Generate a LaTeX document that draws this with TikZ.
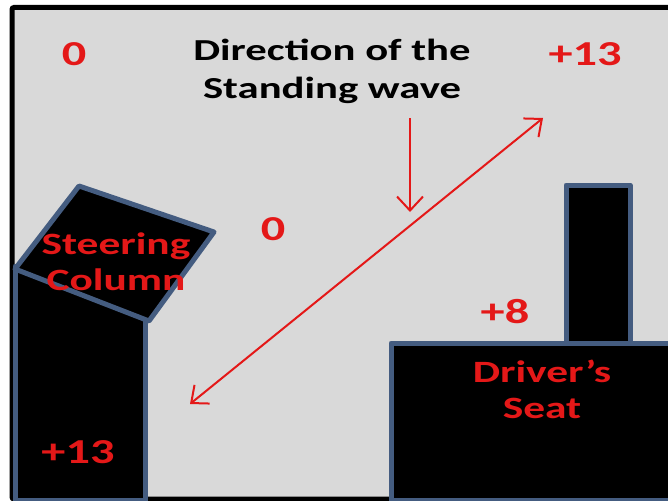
\documentclass[tikz,border=0pt]{standalone}
\usepackage{fontspec}
\setmainfont{Carlito}
\usetikzlibrary{arrows.meta}
\definecolor{bg}{RGB}{217,217,217}
\definecolor{lbl}{RGB}{228,24,24}
\definecolor{edgeblue}{RGB}{68,92,128}
\begin{document}
\begin{tikzpicture}[x=1pt,y=-1pt,
  num/.style={text=lbl, font=\fontsize{35}{40}\selectfont\bfseries, xscale=1.38, inner sep=0pt},
  title/.style={text=black, font=\fontsize{30.5}{38}\selectfont\bfseries, xscale=1.40, inner sep=0pt, align=center},
  inlbl/.style={text=lbl, font=\fontsize{31}{36}\selectfont\bfseries, xscale=1.40, inner sep=0pt, align=center},
  part/.style={fill=black, draw=edgeblue, line width=5pt, line join=round},
  redarrow/.style={draw=lbl, line width=2pt, arrows={-Straight Barb[length=14pt,width=26pt]}},
  dblarrow/.style={draw=lbl, line width=2pt, arrows={Straight Barb[length=14pt,width=24pt]-Straight Barb[length=14pt,width=24pt]}}]
\useasboundingbox (0,0) rectangle (668,500);
\clip (0,0) rectangle (668,500);
\fill[white] (0,0) rectangle (668,500);
\draw[line width=5pt, fill=bg, rounded corners=2pt] (12,7.5) rectangle (690,499);

% steering column
\draw[part] (15,266) rectangle (145,500);
\draw[part] (79,186) -- (214,232) -- (149,321) -- (15,269) -- cycle;
% driver's seat
\draw[part] (566,185) rectangle (630,343);
\draw[part] (391,343) rectangle (690,500);

% labels
\node[num] (z1) at (74,54) {0};
\node[num] (p13a) at (585,54) {+13};
\node[num] (z2) at (273,229) {0};
\node[num] (p8) at (505,312) {+8};
\node[num] (p13b) at (78,452) {+13};
\node[title] (dir) at (332,71) {Direction of the\\Standing wave};
\node[inlbl] (steer) at (116,262) {Steering\\Column};
\node[inlbl] (seat) at (542,389) {Driver’s\\Seat};

% arrows
\coordinate (va) at (410,118);
\coordinate (vb) at (410,212);
\coordinate (da) at (190,404);
\coordinate (db) at (543,118);
\draw[redarrow] (va) -- (vb);
\draw[dblarrow] (da) -- (db);
\end{tikzpicture}
\end{document}
